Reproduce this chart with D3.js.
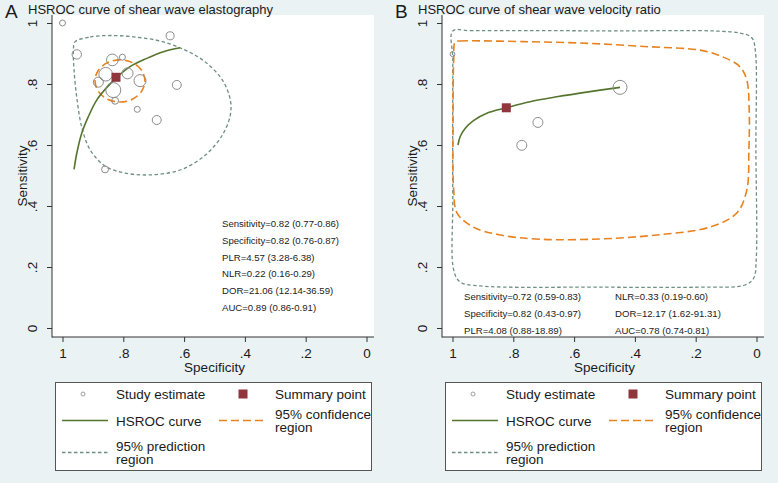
<!DOCTYPE html>
<html><head><meta charset="utf-8">
<script src="https://cdn.jsdelivr.net/npm/d3@7"></script>
<style>
body{margin:0;background:#eaf2f3;}
text{font-family:"Liberation Sans",Arial,Helvetica,sans-serif;}
</style>
</head><body>
<svg id="chart" width="778" height="483"></svg>
<script>
// ---------- shared axis data ----------
const tickValues = [0, 0.2, 0.4, 0.6, 0.8, 1];
const tickLabels = ["0", ".2", ".4", ".6", ".8", "1"];
const xTitle = "Specificity";
const yTitle = "Sensitivity";
const legendLabels = ["Study estimate", "Summary point", "HSROC curve", ["95% confidence", "region"], ["95% prediction", "region"]];

// ---------- Panel A data ----------
const titleA = "HSROC curve of shear wave elastography";
const studySpecA = [1.000, 0.953, 0.646, 0.836, 0.803, 0.858, 0.882, 0.786, 0.745, 0.833, 0.827, 0.624, 0.754, 0.690, 0.860];
const studySensA = [1.000, 0.897, 0.958, 0.879, 0.888, 0.832, 0.806, 0.835, 0.811, 0.780, 0.745, 0.797, 0.717, 0.682, 0.520];
const studyWeightA = [9, 22, 16, 34, 9, 46, 25, 30, 36, 56, 12, 20, 9, 20, 12];
const summarySpecA = [0.824];
const summarySensA = [0.822];
const curveSpecA = [0.962, 0.953, 0.937, 0.915, 0.887, 0.854, 0.821, 0.778, 0.723, 0.668, 0.613];
const curveSensA = [0.520, 0.573, 0.638, 0.693, 0.748, 0.789, 0.822, 0.857, 0.884, 0.906, 0.919];
const confSpecA = [0.729, 0.740, 0.770, 0.811, 0.852, 0.882, 0.893, 0.882, 0.852, 0.811, 0.770, 0.740];
const confSensA = [0.810, 0.845, 0.870, 0.879, 0.870, 0.845, 0.810, 0.776, 0.750, 0.741, 0.750, 0.776];
const predSpecA = [0.959, 0.909, 0.843, 0.761, 0.679, 0.596, 0.530, 0.474, 0.448, 0.448, 0.474, 0.530, 0.613, 0.712, 0.794, 0.860, 0.909, 0.936, 0.952, 0.962, 0.964];
const predSensA = [0.938, 0.954, 0.959, 0.954, 0.941, 0.911, 0.872, 0.813, 0.748, 0.698, 0.633, 0.567, 0.518, 0.502, 0.508, 0.531, 0.584, 0.656, 0.748, 0.846, 0.911];
const statsA = ["Sensitivity=0.82 (0.77-0.86)", "Specificity=0.82 (0.76-0.87)", "PLR=4.57 (3.28-6.38)", "NLR=0.22 (0.16-0.29)", "DOR=21.06 (12.14-36.59)", "AUC=0.89 (0.86-0.91)"];

// ---------- Panel B data ----------
const titleB = "HSROC curve of shear wave velocity ratio";
const studySpecB = [1.000, 0.449, 0.719, 0.772];
const studySensB = [0.898, 0.789, 0.674, 0.599];
const studyWeightB = [6, 49, 25, 25];
const summarySpecB = [0.823];
const summarySensB = [0.722];
const curveSpecB = [0.982, 0.975, 0.958, 0.931, 0.887, 0.823, 0.745, 0.657, 0.548, 0.449];
const curveSensB = [0.600, 0.627, 0.655, 0.680, 0.704, 0.722, 0.742, 0.758, 0.775, 0.789];
const confSpecB = [0.991, 0.975, 0.768, 0.548, 0.351, 0.186, 0.111, 0.055, 0.032, 0.024, 0.025, 0.032, 0.065, 0.153, 0.328, 0.515, 0.712, 0.843, 0.932, 0.985, 0.996, 0.998, 0.996];
const confSensB = [0.939, 0.941, 0.939, 0.933, 0.922, 0.911, 0.889, 0.857, 0.813, 0.715, 0.584, 0.452, 0.377, 0.331, 0.305, 0.292, 0.291, 0.305, 0.331, 0.377, 0.452, 0.682, 0.879];
const predSpecB = [0.999, 0.942, 0.515, 0.055, 0.015, 0.004, 0.002, 0.001, 0.009, 0.038, 0.186, 0.515, 0.909, 0.975, 0.996, 0.999, 0.999];
const predSensB = [0.974, 0.975, 0.974, 0.967, 0.951, 0.911, 0.584, 0.223, 0.164, 0.141, 0.134, 0.134, 0.138, 0.151, 0.190, 0.420, 0.879];
const statsB = ["Sensitivity=0.72 (0.59-0.83)", "Specificity=0.82 (0.43-0.97)", "PLR=4.08 (0.88-18.89)", "NLR=0.33 (0.19-0.60)", "DOR=12.17 (1.62-91.31)", "AUC=0.78 (0.74-0.81)"];

// ---------- styles ----------
const C = {
  bg: "#eaf2f3", plot: "#ffffff", axis: "#333333", text: "#1a1a1a",
  study: "#8c8c8c", summary: "#90353b", curve: "#55752f",
  conf: "#e8821e", pred: "#6e8e84", legendBorder: "#555555"
};
const FONT = 13.5;

const svg = d3.select("#chart");
svg.append("rect").attr("width", 778).attr("height", 483).attr("fill", C.bg);

function zip(a, b) { return a.map((v, i) => [v, b[i]]); }

function drawPanel(cfg, d) {
  const g = svg.append("g").attr("transform", `translate(${cfg.ox},0)`);
  const x = d3.scaleLinear().domain([1, 0]).range([62.5, 366.5]);
  const y = d3.scaleLinear().domain([0, 1]).range([328, 23]);
  const plotL = 52, plotR = 374, plotT = 15, plotB = 337;

  // plot region
  g.append("rect").attr("x", plotL).attr("y", plotT).attr("width", plotR - plotL).attr("height", plotB - plotT).attr("fill", C.plot);

  // title
  g.append("text").attr("x", 5).attr("y", 17.5).attr("font-size", 19).attr("fill", C.text).text(d.letter);
  g.append("text").attr("x", 28).attr("y", 13.5).attr("font-size", 13).attr("fill", C.text).text(d.title);

  // axes
  const ya = d3.axisLeft(y).tickValues(tickValues).tickFormat((v, i) => tickLabels[i]).tickSize(5);
  const yg = g.append("g").attr("transform", `translate(${plotL},0)`).call(ya);
  yg.select(".domain").remove();
  yg.selectAll("line").attr("stroke", C.axis);
  yg.selectAll("text").attr("x", null).attr("dy", null).attr("text-anchor", "middle")
    .attr("transform", "translate(-15,0) rotate(-90)").attr("font-size", FONT).attr("fill", C.text)
    .style("font-family", '"Liberation Sans",Arial,sans-serif');

  const xa = d3.axisBottom(x).tickValues(tickValues).tickFormat((v, i) => tickLabels[i]).tickSize(5);
  const xg = g.append("g").attr("transform", `translate(0,${plotB})`).call(xa);
  xg.select(".domain").remove();
  xg.selectAll("line").attr("stroke", C.axis);
  xg.selectAll("text").attr("y", 21).attr("dy", null).attr("font-size", FONT).attr("fill", C.text)
    .style("font-family", '"Liberation Sans",Arial,sans-serif');

  g.append("line").attr("x1", plotL).attr("x2", plotL).attr("y1", plotT).attr("y2", plotB + 0.5).attr("stroke", C.axis);
  g.append("line").attr("x1", plotL).attr("x2", plotR).attr("y1", plotB).attr("y2", plotB).attr("stroke", C.axis);

  g.append("text").attr("x", (62.5 + 366.5) / 2).attr("y", 372).attr("text-anchor", "middle").attr("font-size", FONT).attr("fill", C.text).text(xTitle);
  g.append("text").attr("transform", `translate(27,176) rotate(-90)`).attr("text-anchor", "middle").attr("font-size", FONT).attr("fill", C.text).text(yTitle);

  const line = d3.line().x(p => x(p[0])).y(p => y(p[1]));

  // prediction region
  g.append("path").datum(zip(d.predSpec, d.predSens))
    .attr("d", line.curve(d3.curveCatmullRomClosed.alpha(0.5)))
    .attr("fill", "none").attr("stroke", C.pred).attr("stroke-width", 1.3).attr("stroke-dasharray", "3.5,2.5");
  // confidence region
  g.append("path").datum(zip(d.confSpec, d.confSens))
    .attr("d", line.curve(d3.curveCatmullRomClosed.alpha(0.5)))
    .attr("fill", "none").attr("stroke", C.conf).attr("stroke-width", 1.6).attr("stroke-dasharray", "8,4");
  // HSROC curve
  g.append("path").datum(zip(d.curveSpec, d.curveSens))
    .attr("d", line.curve(d3.curveCatmullRom.alpha(0.5)))
    .attr("fill", "none").attr("stroke", C.curve).attr("stroke-width", 1.6);

  // studies
  const r = d3.scaleSqrt().domain([0, d3.max(d.studyWeight)]).range([0, d.maxR]);
  g.selectAll("circle.study").data(d.studySpec.map((s, i) => ({ s, e: d.studySens[i], w: d.studyWeight[i] })))
    .join("circle").attr("class", "study")
    .attr("cx", p => x(p.s)).attr("cy", p => y(p.e)).attr("r", p => r(p.w))
    .attr("fill", "none").attr("stroke", C.study).attr("stroke-width", 1);

  // summary point
  const sq = 9;
  g.selectAll("rect.summary").data(d.summarySpec.map((s, i) => ({ s, e: d.summarySens[i] })))
    .join("rect").attr("class", "summary")
    .attr("x", p => x(p.s) - sq / 2).attr("y", p => y(p.e) - sq / 2).attr("width", sq).attr("height", sq)
    .attr("fill", C.summary);

  // stats text
  d.stats.forEach((t, i) => {
    const pos = d.statPos(i);
    g.append("text").attr("x", pos[0]).attr("y", pos[1]).attr("font-size", 9.6).attr("fill", "#222").text(t);
  });

  // legend
  const lg = g.append("g");
  lg.append("rect").attr("x", 55.5).attr("y", 382.5).attr("width", 316).attr("height", 88)
    .attr("fill", "#fff").attr("stroke", C.legendBorder).attr("stroke-width", 1);
  const txt = (tx, ty, s) => lg.append("text").attr("x", tx).attr("y", ty).attr("dy", "0.36em").attr("font-size", FONT).attr("fill", C.text).text(s);
  lg.append("circle").attr("cx", 83).attr("cy", 394).attr("r", 2).attr("fill", "none").attr("stroke", C.study).attr("stroke-width", 0.8);
  txt(116, 394, legendLabels[0]);
  lg.append("rect").attr("x", 243 - 4.5).attr("y", 394 - 4.5).attr("width", 9).attr("height", 9).attr("fill", C.summary);
  txt(275, 394, legendLabels[1]);
  lg.append("line").attr("x1", 62).attr("x2", 108).attr("y1", 420.5).attr("y2", 420.5).attr("stroke", C.curve).attr("stroke-width", 1.6);
  txt(116, 421, legendLabels[2]);
  lg.append("line").attr("x1", 219).attr("x2", 266).attr("y1", 420.5).attr("y2", 420.5).attr("stroke", C.conf).attr("stroke-width", 1.6).attr("stroke-dasharray", "8,4");
  txt(275, 414, legendLabels[3][0]);
  txt(275, 427.5, legendLabels[3][1]);
  lg.append("line").attr("x1", 62).attr("x2", 108).attr("y1", 452.5).attr("y2", 452.5).attr("stroke", C.pred).attr("stroke-width", 1.3).attr("stroke-dasharray", "3.5,2.5");
  txt(116, 446, legendLabels[4][0]);
  txt(116, 459.5, legendLabels[4][1]);
}

drawPanel({ ox: 0 }, {
  letter: "A", title: titleA,
  studySpec: studySpecA, studySens: studySensA, studyWeight: studyWeightA, maxR: 7.5,
  summarySpec: summarySpecA, summarySens: summarySensA,
  curveSpec: curveSpecA, curveSens: curveSensA,
  confSpec: confSpecA, confSens: confSensA,
  predSpec: predSpecA, predSens: predSensA,
  stats: statsA,
  statPos: i => [222, 227 + i * 16.8]
});

drawPanel({ ox: 390 }, {
  letter: "B", title: titleB,
  studySpec: studySpecB, studySens: studySensB, studyWeight: studyWeightB, maxR: 7,
  summarySpec: summarySpecB, summarySens: summarySensB,
  curveSpec: curveSpecB, curveSens: curveSensB,
  confSpec: confSpecB, confSens: confSensB,
  predSpec: predSpecB, predSens: predSensB,
  stats: statsB,
  statPos: i => [i < 3 ? 74 : 225, [300, 317, 333.5][i % 3]]
});
</script>
</body></html>
